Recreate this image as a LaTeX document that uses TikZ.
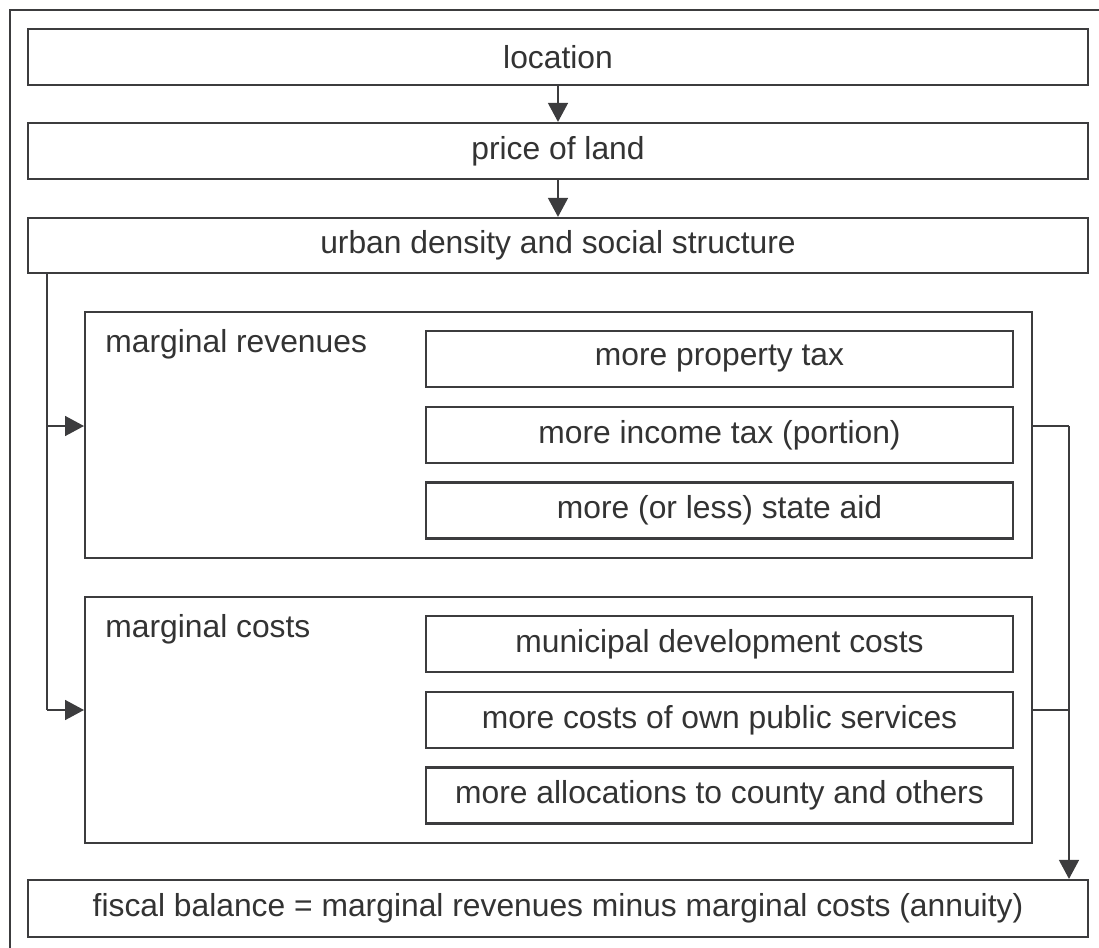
\documentclass[tikz,border=0pt]{standalone}
\usepackage{fontspec}
\setmainfont{Liberation Sans}
\usetikzlibrary{arrows.meta,calc}
\definecolor{ink}{HTML}{3C3C3E}
\definecolor{txt}{HTML}{333333}
\begin{document}
\begin{tikzpicture}[x=0.5pt,y=-0.5pt,
  font=\fontsize{15.9}{19}\selectfont, text=txt,
  box/.style={draw=ink, line width=1.1pt, inner sep=0pt, fill=white},
  widebox/.style={box, minimum width=530pt, minimum height=28pt},
  groupbox/.style={box, line width=1pt, minimum width=473.5pt, minimum height=123pt},
  itembox/.style={box, minimum width=293.5pt, minimum height=28pt},
  grouplabel/.style={anchor=base west, inner sep=0pt},
  conn/.style={draw=ink, line width=0.8pt},
  arr/.style={conn, -{Triangle[length=9.5pt,width=10pt]}}]
\useasboundingbox (0,0) rectangle (1099,948);
\clip (0,0) rectangle (1099,948);

% outer frame (only its top and left edges fall inside the page)
\draw[ink, line width=1pt] (10,960) -- (10,10) -- (1120,10);

% main chain
\node[widebox] (loc)   at (558,57)    {location};
\node[widebox] (price) at (558,151)   {price of land};
\node[widebox, minimum height=27.5pt] (urban) at (558,245.5) {urban density and social structure};

% revenues group
\node[groupbox] (rev) at (558.5,435) {};
\node[grouplabel] (revl) at (105,352) {marginal revenues};
\node[itembox] (r1) at (719.5,359)   {more property tax};
\node[itembox] (r2) at (719.5,435)   {more income tax (portion)};
\node[itembox] (r3) at (719.5,510.5) {more (or less) state aid};

% costs group
\node[groupbox] (cost) at (558.5,720) {};
\node[grouplabel] (costl) at (105,637) {marginal costs};
\node[itembox] (c1) at (719.5,644)   {municipal development costs};
\node[itembox] (c2) at (719.5,720)   {more costs of own public services};
\node[itembox] (c3) at (719.5,795.5) {more allocations to county and others};

% result
\node[widebox, minimum height=28.5pt] (fis) at (558,908.5) {fiscal balance = marginal revenues minus marginal costs (annuity)};

% connector routing points
\coordinate (lx) at (47,0);
\coordinate (ra) at (0,426);
\coordinate (ca) at (0,710);
\coordinate (rx) at (1069,0);

\draw[arr] (loc.south) -- (price.north);
\draw[arr] (price.south) -- (urban.north);
\draw[conn] (urban.south -| lx) -- (lx |- ca);
\draw[arr] (lx |- ra) -- (rev.west |- ra);
\draw[arr] (lx |- ca) -- (cost.west |- ca);
\draw[conn] (rev.east |- ra) -- (rx |- ra);
\draw[conn] (cost.east |- ca) -- (rx |- ca);
\draw[arr] (rx |- ra) -- (rx |- fis.north);
\end{tikzpicture}
\end{document}
